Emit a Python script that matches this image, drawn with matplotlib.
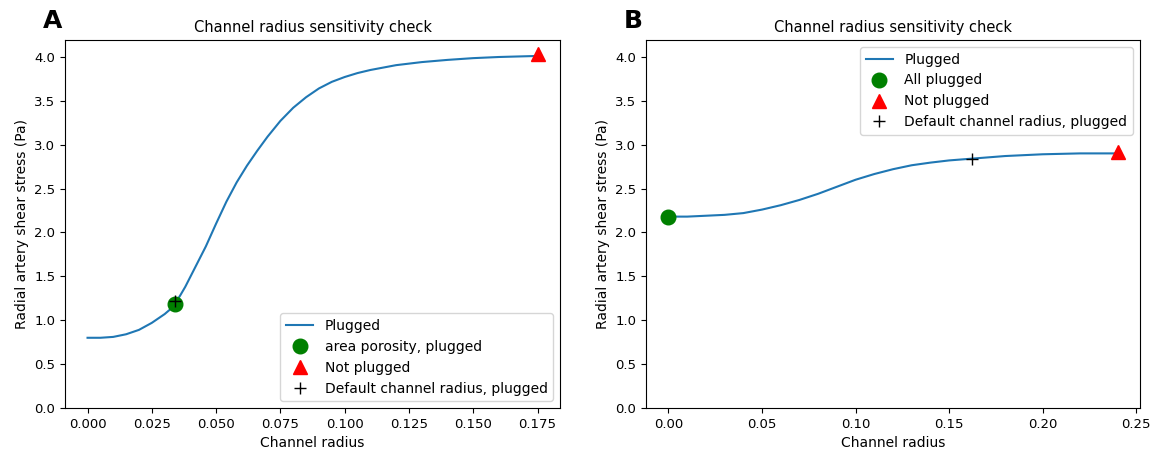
import numpy as np
import matplotlib
matplotlib.use("Agg")
import matplotlib.pyplot as plt

# panel A: shear stress vs channel radius
radius_a = [0.000, 0.005, 0.010, 0.015, 0.020, 0.025, 0.030, 0.032, 0.034, 0.036,
            0.038, 0.042, 0.046, 0.050, 0.054, 0.058, 0.062, 0.066, 0.070, 0.075,
            0.080, 0.085, 0.090, 0.095, 0.100, 0.105, 0.110, 0.120, 0.130, 0.140,
            0.150, 0.160, 0.175]
stress_a = [0.80, 0.80, 0.81, 0.84, 0.89, 0.97, 1.07, 1.12, 1.19, 1.28,
            1.38, 1.61, 1.84, 2.10, 2.35, 2.57, 2.76, 2.93, 3.09, 3.27,
            3.42, 3.54, 3.64, 3.715, 3.77, 3.815, 3.85, 3.905, 3.94, 3.965,
            3.985, 3.998, 4.01]
porosity_a = (0.034, 1.19)
notplug_a = (0.175, 4.03)
default_a = (0.034, 1.22)

# panel B
radius_b = [0.000, 0.010, 0.020, 0.030, 0.040, 0.050, 0.060, 0.070, 0.080, 0.090,
            0.100, 0.110, 0.120, 0.130, 0.140, 0.150, 0.162, 0.180, 0.200, 0.220, 0.240]
stress_b = [2.18, 2.18, 2.19, 2.20, 2.22, 2.26, 2.31, 2.37, 2.44, 2.52,
            2.60, 2.665, 2.72, 2.765, 2.795, 2.82, 2.84, 2.87, 2.89, 2.90, 2.90]
allplug_b = (0.0, 2.18)
notplug_b = (0.24, 2.92)
default_b = (0.162, 2.84)

fig = plt.figure(figsize=(11.53, 4.5), dpi=100)
ax1 = fig.add_axes([0.0564, 0.0933, 0.4293, 0.8178])
ax2 = fig.add_axes([0.5603, 0.0933, 0.4284, 0.8178])

fs = 10

# A
ax1.plot(radius_a, stress_a, color="#1f77b4", label="Plugged")
ax1.plot(*porosity_a, "o", color="green", markersize=10.5, label="area porosity, plugged")
ax1.plot(*notplug_a, "^", color="red", markersize=10.5, label="Not plugged")
ax1.plot(*default_a, "+", color="black", markersize=9, label="Default channel radius, plugged")
ax1.set_ylim(bottom=0)
ax1.set_xticks([0, 0.025, 0.05, 0.075, 0.1, 0.125, 0.15, 0.175])
ax1.legend(loc="lower right", fontsize=fs)

# B
ax2.plot(radius_b, stress_b, color="#1f77b4", label="Plugged")
ax2.plot(*allplug_b, "o", color="green", markersize=10.5, label="All plugged")
ax2.plot(*notplug_b, "^", color="red", markersize=10.5, label="Not plugged")
ax2.plot(*default_b, "+", color="black", markersize=9, label="Default channel radius, plugged")
ax2.set_ylim(ax1.get_ylim())
ax2.set_yticks(np.arange(0, 4.01, 0.5))
ax2.legend(loc="upper right", fontsize=fs)

for ax, letter in [(ax1, "A"), (ax2, "B")]:
    ax.set_title("Channel radius sensitivity check", fontsize=10.5)
    ax.set_xlabel("Channel radius", fontsize=fs)
    ax.set_ylabel("Radial artery shear stress (Pa)", fontsize=fs)
    ax.tick_params(labelsize=9.5)
    ax.text(-0.026, 1.02, letter, transform=ax.transAxes, fontsize=18,
            fontweight="bold", ha="center", va="bottom")

fig.savefig("out.png", dpi=100)
